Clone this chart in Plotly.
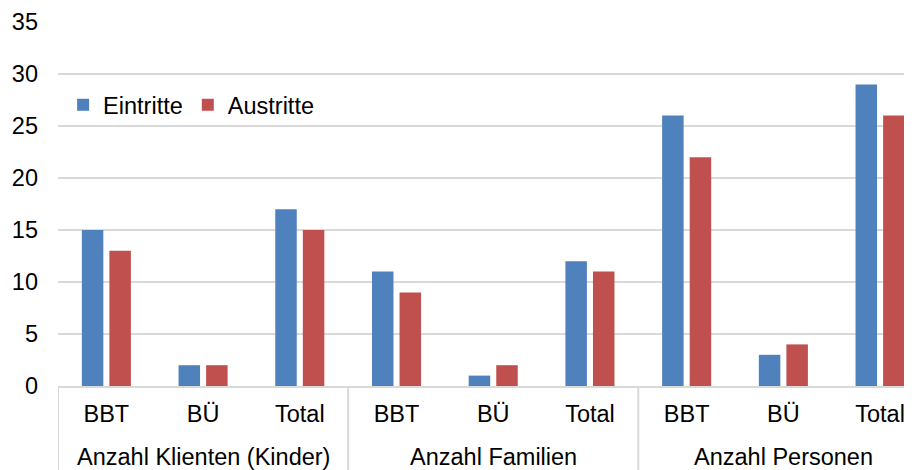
import plotly.graph_objects as go

groups = ["Anzahl Klienten (Kinder)", "Anzahl Familien", "Anzahl Personen"]
subcats = ["BBT", "BÜ", "Total"]
eintritte = [15, 2, 17, 11, 1, 12, 26, 3, 29]
austritte = [13, 2, 15, 9, 2, 11, 22, 4, 26]
y_ticks = [0, 5, 10, 15, 20, 25, 30, 35]

inner_labels = [s for _ in groups for s in subcats]
pos = list(range(len(inner_labels)))
n_sub = len(subcats)

FONT = dict(family="Liberation Sans, Arial, sans-serif", size=23.5, color="#000000")
GRID = "#D9D9D9"

# page body has an 8px margin: figure is sized to fit the 912x470 window
W, H = 904, 462
ML, MT, MB = 50, 14, 84
plot_h = H - MT - MB  # 364

fig = go.Figure()
fig.add_trace(go.Bar(name="Eintritte", x=pos, y=eintritte, marker=dict(color="#4F81BD", line=dict(width=0))))
fig.add_trace(go.Bar(name="Austritte", x=pos, y=austritte, marker=dict(color="#C0504D", line=dict(width=0))))

for gi, g in enumerate(groups):
    center = gi * n_sub + (n_sub - 1) / 2
    fig.add_annotation(x=center, xref="x", y=-71 / plot_h, yref="paper",
                       text=g, showarrow=False, xanchor="center", yanchor="middle", font=FONT)
for gi in range(len(groups) + 1):
    fig.add_shape(type="line", xref="x", yref="paper", x0=gi * n_sub - 0.5, x1=gi * n_sub - 0.5,
                  y0=0, y1=-MB / plot_h, line=dict(color=GRID, width=2))

fig.update_layout(
    width=W, height=H,
    margin=dict(l=ML, r=0, t=MT, b=MB, autoexpand=False),
    paper_bgcolor="white", plot_bgcolor="white",
    font=FONT,
    barmode="group", bargap=0.43, bargroupgap=0.22,
    showlegend=True,
    legend=dict(orientation="h", x=0.006, y=(281) / plot_h, xanchor="left", yanchor="middle",
                bgcolor="rgba(0,0,0,0)", font=FONT, itemwidth=30, tracegroupgap=0),
)
fig.update_xaxes(
    type="linear", range=[-0.5, 8.33], automargin=False,
    tickvals=pos, ticktext=inner_labels,
    showline=True, linecolor=GRID, linewidth=2,
    showgrid=False, zeroline=False, ticks="", ticklabelstandoff=6,
    tickfont=FONT,
)
fig.update_yaxes(
    range=[0, 35], tickvals=y_ticks, showgrid=True, gridcolor=GRID, gridwidth=2,
    automargin=False, zeroline=False, showline=False, ticks="", ticklabelstandoff=19, tickfont=FONT,
)

fig.write_html("out.html")
